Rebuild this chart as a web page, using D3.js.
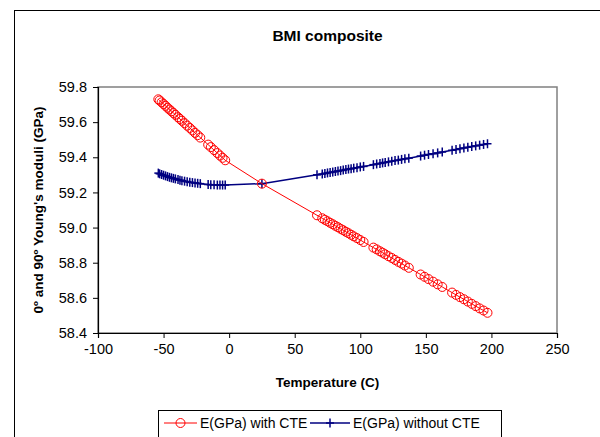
<!DOCTYPE html>
<html>
<head>
<meta charset="utf-8">
<script src="https://cdn.jsdelivr.net/npm/d3@7"></script>
<style>
  body { margin: 0; background: #fff; }
  svg { display: block; font-family: "Liberation Sans", Arial, sans-serif; }
</style>
</head>
<body>
<div id="chart"></div>
<script>
// temperatures (C) shared by both series
const temps = [
  -54, -53, -51.5, -50, -48.5, -47, -45.5, -44, -42.5, -41, -39, -37.5, -36, -34,
  -32, -30, -28, -26, -24, -22, -16, -14, -11.5, -9, -7, -5, -3, 25, 67, 71, 73,
  75, 77, 79, 81, 83, 85, 87, 89, 91, 93, 95, 97.5, 100, 102.5, 110, 112.5, 115,
  117, 119, 121.5, 124, 126.5, 129, 131.5, 134, 137, 146, 149, 152, 155.5, 159,
  162.5, 170, 173, 176, 179, 182, 185, 188, 191, 194, 197,
];

const withCTE = [
  59.73, 59.723, 59.713, 59.703, 59.693, 59.682, 59.672, 59.662, 59.652, 59.642,
  59.628, 59.618, 59.608, 59.594, 59.58, 59.567, 59.553, 59.539, 59.526, 59.512,
  59.472, 59.458, 59.441, 59.424, 59.41, 59.397, 59.383, 59.25, 59.07, 59.053,
  59.044, 59.036, 59.027, 59.019, 59.01, 59.002, 58.993, 58.985, 58.976, 58.968,
  58.959, 58.95, 58.94, 58.929, 58.918, 58.886, 58.876, 58.865, 58.857, 58.848,
  58.837, 58.827, 58.816, 58.805, 58.795, 58.784, 58.771, 58.733, 58.72, 58.707,
  58.692, 58.677, 58.662, 58.63, 58.617, 58.604, 58.592, 58.579, 58.566, 58.553,
  58.54, 58.528, 58.515,
];

const withoutCTE = [
  59.31, 59.306, 59.302, 59.298, 59.294, 59.29, 59.286, 59.283, 59.28, 59.277,
  59.273, 59.27, 59.267, 59.264, 59.261, 59.258, 59.256, 59.254, 59.252, 59.25,
  59.245, 59.244, 59.243, 59.242, 59.242, 59.242, 59.242, 59.25, 59.3, 59.305,
  59.308, 59.311, 59.314, 59.316, 59.319, 59.322, 59.324, 59.327, 59.33, 59.333,
  59.335, 59.338, 59.341, 59.345, 59.348, 59.358, 59.362, 59.365, 59.368, 59.371,
  59.374, 59.378, 59.381, 59.384, 59.388, 59.391, 59.395, 59.407, 59.412, 59.416,
  59.42, 59.425, 59.43, 59.44, 59.444, 59.449, 59.453, 59.457, 59.461, 59.465,
  59.469, 59.473, 59.477,
];

const xTicks = [-100, -50, 0, 50, 100, 150, 200, 250];
const yTicks = [58.4, 58.6, 58.8, 59.0, 59.2, 59.4, 59.6, 59.8];
const seriesNames = ["E(GPa) with CTE", "E(GPa) without CTE"];

const width = 600;
const height = 437;
const margin = { top: 87, right: 43, bottom: 104, left: 98 };
const red = "#ff0000";
const navy = "#000080";
const labelSize = 14.5;
const legendSize = 14;

const x = d3.scaleLinear().domain([-100, 250])
  .range([margin.left, width - margin.right]);
const y = d3.scaleLinear().domain([58.4, 59.8])
  .range([height - margin.bottom, margin.top]);

const svg = d3.select("#chart").append("svg")
  .attr("width", width)
  .attr("height", height);

// outer chart frame (runs off the right and bottom)
svg.append("rect")
  .attr("x", 14.5).attr("y", 10.5)
  .attr("width", 700).attr("height", 600)
  .attr("fill", "none")
  .attr("stroke", "#000");

svg.append("text")
  .attr("x", (x.range()[0] + x.range()[1]) / 2)
  .attr("y", 41)
  .attr("text-anchor", "middle")
  .attr("font-weight", "bold")
  .attr("font-size", 15.5)
  .text("BMI composite");

// plot area box
svg.append("rect")
  .attr("x", x.range()[0]).attr("y", y.range()[1])
  .attr("width", x.range()[1] - x.range()[0])
  .attr("height", y.range()[0] - y.range()[1])
  .attr("fill", "none")
  .attr("stroke", "#808080")
  .attr("stroke-width", 1.5);

const gX = svg.append("g")
  .attr("transform", `translate(0,${y.range()[0]})`)
  .call(d3.axisBottom(x).tickValues(xTicks).tickSize(5).tickPadding(4)
    .tickFormat((d) => String(d)));

const gY = svg.append("g")
  .attr("transform", `translate(${x.range()[0]},0)`)
  .call(d3.axisLeft(y).tickValues(yTicks).tickSize(5).tickPadding(6)
    .tickFormat((d) => d.toFixed(1)));

[gX, gY].forEach((g) => {
  g.select(".domain").attr("stroke", "#000").attr("stroke-width", 1.2);
  g.selectAll(".tick line").attr("stroke", "#000");
  g.selectAll(".tick text")
    .attr("fill", "#000")
    .attr("font-size", labelSize)
    .attr("font-family", "Liberation Sans, Arial, sans-serif");
});
gX.selectAll(".tick text").attr("dy", "0.85em");

svg.append("text")
  .attr("x", (x.range()[0] + x.range()[1]) / 2)
  .attr("y", 387)
  .attr("text-anchor", "middle")
  .attr("font-weight", "bold")
  .attr("font-size", 13.5)
  .text("Temperature (C)");

svg.append("text")
  .attr("transform", `translate(43,${(y.range()[0] + y.range()[1]) / 2}) rotate(-90)`)
  .attr("text-anchor", "middle")
  .attr("font-weight", "bold")
  .attr("font-size", 13.5)
  .text("0º and 90º Young's moduli (GPa)");

const line = d3.line().x((d) => x(d[0])).y((d) => y(d[1]));
const redPts = temps.map((t, i) => [t, withCTE[i]]);
const bluePts = temps.map((t, i) => [t, withoutCTE[i]]);

function plus(g, color) {
  g.append("line").attr("x1", -4).attr("x2", 4)
    .attr("stroke", color).attr("stroke-width", 1.5);
  g.append("line").attr("y1", -4.5).attr("y2", 4.5)
    .attr("stroke", color).attr("stroke-width", 1.5);
}

svg.append("path")
  .attr("d", line(bluePts))
  .attr("fill", "none")
  .attr("stroke", navy)
  .attr("stroke-width", 1.5);

svg.append("g").selectAll("g")
  .data(bluePts)
  .join("g")
  .attr("transform", (d) => `translate(${x(d[0])},${y(d[1])})`)
  .each(function () { plus(d3.select(this), navy); });

svg.append("path")
  .attr("d", line(redPts))
  .attr("fill", "none")
  .attr("stroke", red)
  .attr("stroke-width", 1);

svg.append("g").selectAll("circle")
  .data(redPts)
  .join("circle")
  .attr("cx", (d) => x(d[0]))
  .attr("cy", (d) => y(d[1]))
  .attr("r", 4.5)
  .attr("fill", "none")
  .attr("stroke", red)
  .attr("stroke-width", 1);

// legend
const legend = svg.append("g").attr("transform", "translate(158,410)");
legend.append("rect")
  .attr("x", 0.5).attr("y", 0.5)
  .attr("width", 343).attr("height", 40)
  .attr("fill", "#fff")
  .attr("stroke", "#000");

const redItem = legend.append("g").attr("transform", "translate(6,13)");
redItem.append("line").attr("x1", 0).attr("x2", 33)
  .attr("stroke", red).attr("stroke-width", 1);
redItem.append("circle").attr("cx", 16.5).attr("r", 4.5)
  .attr("fill", "none").attr("stroke", red);
redItem.append("text").attr("x", 36).attr("dy", "0.35em")
  .attr("font-size", legendSize).text(seriesNames[0]);

const blueItem = legend.append("g").attr("transform", "translate(152,13)");
blueItem.append("line").attr("x1", 0).attr("x2", 40)
  .attr("stroke", navy).attr("stroke-width", 1.5);
plus(blueItem.append("g").attr("transform", "translate(20,0)"), navy);
blueItem.append("text").attr("x", 43).attr("dy", "0.35em")
  .attr("font-size", legendSize).text(seriesNames[1]);
</script>
</body>
</html>
